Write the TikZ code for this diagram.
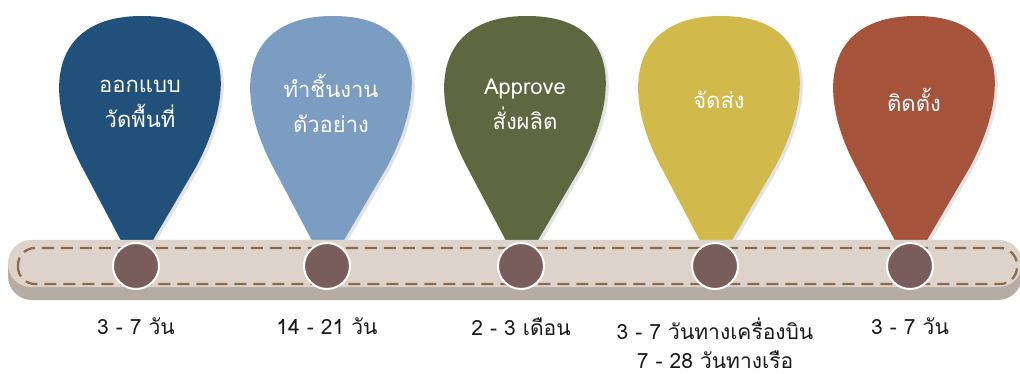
\documentclass[tikz,border=0pt]{standalone}
\usepackage{fontspec}
\newfontfamily\thaifont[Script=Thai]{Loma}
\usetikzlibrary{shadows}
\definecolor{dropA}{HTML}{21507A}
\definecolor{dropB}{HTML}{7B9DC1}
\definecolor{dropC}{HTML}{5E6740}
\definecolor{dropD}{HTML}{D1B94C}
\definecolor{dropE}{HTML}{A6533C}
\definecolor{barTop}{HTML}{DDD3CA}
\definecolor{barSide}{HTML}{B7ACA3}
\definecolor{stitch}{HTML}{8E6A4C}
\definecolor{dotFill}{HTML}{785D5A}
\definecolor{labelText}{HTML}{1A1A1A}
\tikzset{
  dropshape/.style={fill=#1, drop shadow={shadow xshift=3pt, shadow yshift=-2pt, opacity=0.22}},
  droptext/.style={text=white, align=center, font=\thaifont\fontsize{22}{35}\selectfont},
  marker/.style={circle, fill=dotFill, draw=white, line width=2pt, minimum size=46pt, inner sep=0pt},
  durlabel/.style={text=labelText, align=center, inner sep=0pt, font=\thaifont\fontsize{21}{29}\selectfont, anchor=north},
}
\begin{document}
\begin{tikzpicture}[x=1pt,y=-1pt]
\useasboundingbox[fill=white] (0,0) rectangle (1020,374);
% drops
\foreach \cx/\col in {136/dropA,327/dropB,521/dropC,715/dropD,910/dropE}{
  \pgfmathsetmacro{\bx}{\cx+6}
  \path[dropshape=\col] (\cx,269) -- (\cx-54,167)
     .. controls (\cx-94,92) and (\bx-92,16) .. (\bx,16)
     .. controls (\bx+92,16) and (\cx+100,92) .. (\cx+60,167) -- cycle;
}
% bar
\fill[barSide] (8,244) [rounded corners=24pt] rectangle (1022,300);
\fill[barTop] (8,240) [rounded corners=23pt] rectangle (1022,287);
\draw[stitch, line width=2.3pt, dash pattern=on 12pt off 7pt, rounded corners=17pt] (18,248) rectangle (1017,284);
% markers
\node[marker] (c1) at (136,266) {};
\node[marker] (c2) at (327,266) {};
\node[marker] (c3) at (521,266) {};
\node[marker] (c4) at (715,266) {};
\node[marker] (c5) at (910,266) {};
% drop texts
\node[droptext] (d1) at (140,104) {ออกแบบ\\วัดพื้นที่};
\node[droptext] (d2) at (331,103) {ทำชิ้นงาน\\ตัวอย่าง};
\node[droptext] (d3) at (525,104) {Approve\\สั่งผลิต};
\node[droptext] (d4) at (719,100) {จัดส่ง};
\node[droptext] (d5) at (914,100) {ติดตั้ง};
% durations
\node[durlabel] (l1) at (136,318) {3 - 7 วัน};
\node[durlabel] (l2) at (327,318) {14 - 21 วัน};
\node[durlabel] (l3) at (521,318) {2 - 3 เดือน};
\node[durlabel] (l4) at (715,318) {3 - 7 วันทางเครื่องบิน\\7 - 28 วันทางเรือ};
\node[durlabel] (l5) at (910,318) {3 - 7 วัน};
\end{tikzpicture}
\end{document}
